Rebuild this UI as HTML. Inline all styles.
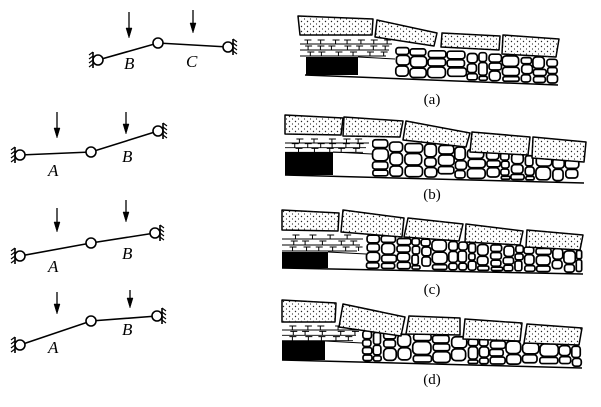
<!DOCTYPE html>
<html><head><meta charset="utf-8"><style>
html,body{margin:0;padding:0;background:#fff;}
svg{display:block;}
text{font-family:"Liberation Serif",serif;fill:#000;}
</style></head><body>
<svg id="s" width="601" height="407" viewBox="0 0 601 407" xmlns="http://www.w3.org/2000/svg">
<defs>
<pattern id="dots" width="6" height="5" patternUnits="userSpaceOnUse">
<circle cx="1.5" cy="1.5" r="0.7" fill="#222"/><circle cx="4.5" cy="4" r="0.6" fill="#222"/>
</pattern>
</defs>
<g id="left" stroke="#000" stroke-width="1.6" fill="none"></g>
<g id="right"></g>
<text x="432" y="104" font-size="15" text-anchor="middle">(a)</text>
<text x="432" y="199" font-size="15" text-anchor="middle">(b)</text>
<text x="432" y="294" font-size="15" text-anchor="middle">(c)</text>
<text x="432" y="384" font-size="15" text-anchor="middle">(d)</text>
<g font-size="17" font-style="italic">
<text x="124" y="69">B</text><text x="186" y="67">C</text>
<text x="48" y="176">A</text><text x="122" y="162">B</text>
<text x="48" y="272">A</text><text x="122" y="259">B</text>
<text x="48" y="353">A</text><text x="122" y="335">B</text>
</g>
</svg>
<script>
var NS="http://www.w3.org/2000/svg";
function el(p,t,a){var e=document.createElementNS(NS,t);for(var k in a)e.setAttribute(k,a[k]);p.appendChild(e);return e;}
var L=document.getElementById('left');
function beam(p){
 var l=p[0],h=p[1],r=p[2];
 el(L,'polyline',{points:l[0]+','+l[1]+' '+h[0]+','+h[1]+' '+r[0]+','+r[1]});
 [l,h,r].forEach(function(c){el(L,'circle',{cx:c[0],cy:c[1],r:5,fill:'#fff'});});
 function hatch(x,y,dir){el(L,'line',{x1:x,y1:y-8,x2:x,y2:y+8});
  for(var i=-8;i<=6;i+=4)el(L,'line',{x1:x,y1:y+i,x2:x+dir*4,y2:y+i+3,'stroke-width':1.1});}
 hatch(l[0]-5,l[1],-1);hatch(r[0]+5,r[1],1);
 p[3].forEach(function(a){el(L,'line',{x1:a[0],y1:a[1],x2:a[0],y2:a[2]-8,'stroke-width':1.3});
  el(L,'polygon',{points:(a[0]-3)+','+(a[2]-10)+' '+(a[0]+3)+','+(a[2]-10)+' '+a[0]+','+a[2],fill:'#000','stroke-width':0.5});});
}
beam([[98,60],[158,43],[228,47],[[129,12,38],[193,10,33]]]);
beam([[20,155],[91,152],[158,131],[[57,112,138],[126,112,134]]]);
beam([[20,256],[91,243],[155,233],[[57,208,232],[126,200,222]]]);
beam([[20,345],[91,321],[157,316],[[57,292,314],[130,290,308]]]);

var R=document.getElementById('right');
var seed=7;function rnd(){seed=(seed*9301+49297)%233280;return seed/233280;}
function panel(P){
 var x0=P.sx,x1=P.ex,bl=P.bl;
 el(R,'polygon',{points:P.st[0]+','+P.st[1]+' '+P.st[2]+','+P.st[3]+' '+bl[2]+','+bl[3]+' '+x0+','+(bl[1]+(bl[3]-bl[1])*((x0-bl[0])/(bl[2]-bl[0]))),fill:'#fff'});
 for(var x=x0;x<x1-5;){
  var w=9+rnd()*11; if(x+w>x1)w=x1-x;
  var yb=bl[1]+(bl[3]-bl[1])*((x-bl[0])/(bl[2]-bl[0]));
  var yt=P.st[1]+(P.st[3]-P.st[1])*((x-P.st[0])/(P.st[2]-P.st[0]));
  for(var y=yt+rnd()*2;y<yb-5;){
   var h=7+rnd()*7; if(y+h>yb-1)h=yb-1-y;
   var ww=w-1-rnd()*2;
   el(R,'rect',{x:x+0.5+rnd(),y:y+0.5,width:ww,height:h-1,rx:Math.min(ww,h)/3,fill:'#fff',stroke:'#000','stroke-width':1.7});
   y+=h;
  }
  x+=w;
 }
 var hz=P.hz;
 el(R,'rect',{x:hz[0],y:hz[1],width:hz[2]-hz[0],height:hz[3]-hz[1],fill:'#fff'});
 for(var i=0;i<3;i++){var yy=hz[1]+4+i*((hz[3]-hz[1]-3)/3);
  el(R,'line',{x1:hz[0],y1:yy+4,x2:hz[2]-3-i*3,y2:yy+4,stroke:'#000','stroke-width':0.9});
  for(var xx=hz[0]+4+rnd()*8;xx<hz[2]-8;xx+=11+rnd()*8){
   el(R,'path',{d:'M'+xx+','+yy+' h7 M'+(xx+3)+','+yy+' v4',stroke:'#000','stroke-width':1,fill:'none'});}}
 var b=P.bk; el(R,'rect',{x:b[0],y:b[1],width:b[2]-b[0],height:b[3]-b[1],fill:'#000'});
 el(R,'line',{x1:b[2],y1:b[1],x2:P.sx,y2:b[1]+2,stroke:'#000','stroke-width':1});
 el(R,'line',{x1:bl[0],y1:bl[1],x2:bl[2],y2:bl[3],stroke:'#000','stroke-width':1.5});
 P.blocks.forEach(function(q){var pts=q.map(function(p){return p.join(',');}).join(' ');
  el(R,'polygon',{points:pts,fill:'#fff',stroke:'#000','stroke-width':1.5,'stroke-linejoin':'round'});
  el(R,'polygon',{points:pts,fill:'url(#dots)'});});
}
panel({sx:395,ex:558,st:[395,46,558,58],bl:[305,75,558,85],hz:[300,36,395,57],bk:[306,57,358,75],
 blocks:[[[298,16],[373,19],[372,35],[300,35]],[[377,20],[437,33],[434,46],[375,37]],[[442,33],[500,36],[499,50],[441,47]],[[503,35],[559,39],[556,57],[502,54]]]});
panel({sx:372,ex:584,st:[372,138,584,160],bl:[285,175,584,183],hz:[285,135,372,152],bk:[285,152,333,175],
 blocks:[[[285,115],[343,118],[341,135],[285,134]],[[344,117],[403,121],[400,137],[343,136]],[[406,121],[470,133],[466,147],[403,140]],[[472,132],[530,137],[528,155],[470,152]],[[533,137],[586,142],[584,162],[532,158]]]});
panel({sx:366,ex:583,st:[366,234,583,250],bl:[282,268,583,274],hz:[282,231,366,252],bk:[282,252,328,268],
 blocks:[[[282,210],[339,213],[338,231],[282,230]],[[343,210],[404,218],[402,237],[341,232]],[[408,218],[463,224],[459,241],[404,237]],[[466,224],[523,231],[520,245],[465,242]],[[527,230],[583,235],[580,250],[526,247]]]});
panel({sx:362,ex:582,st:[362,330,582,345],bl:[282,360,582,368],hz:[282,322,362,341],bk:[282,341,325,360],
 blocks:[[[282,300],[336,303],[335,322],[282,322]],[[343,304],[405,317],[401,336],[339,327]],[[409,316],[460,318],[460,335],[406,334]],[[465,319],[522,323],[520,341],[463,339]],[[527,324],[582,328],[579,345],[524,343]]]});
</script>
</body></html>
